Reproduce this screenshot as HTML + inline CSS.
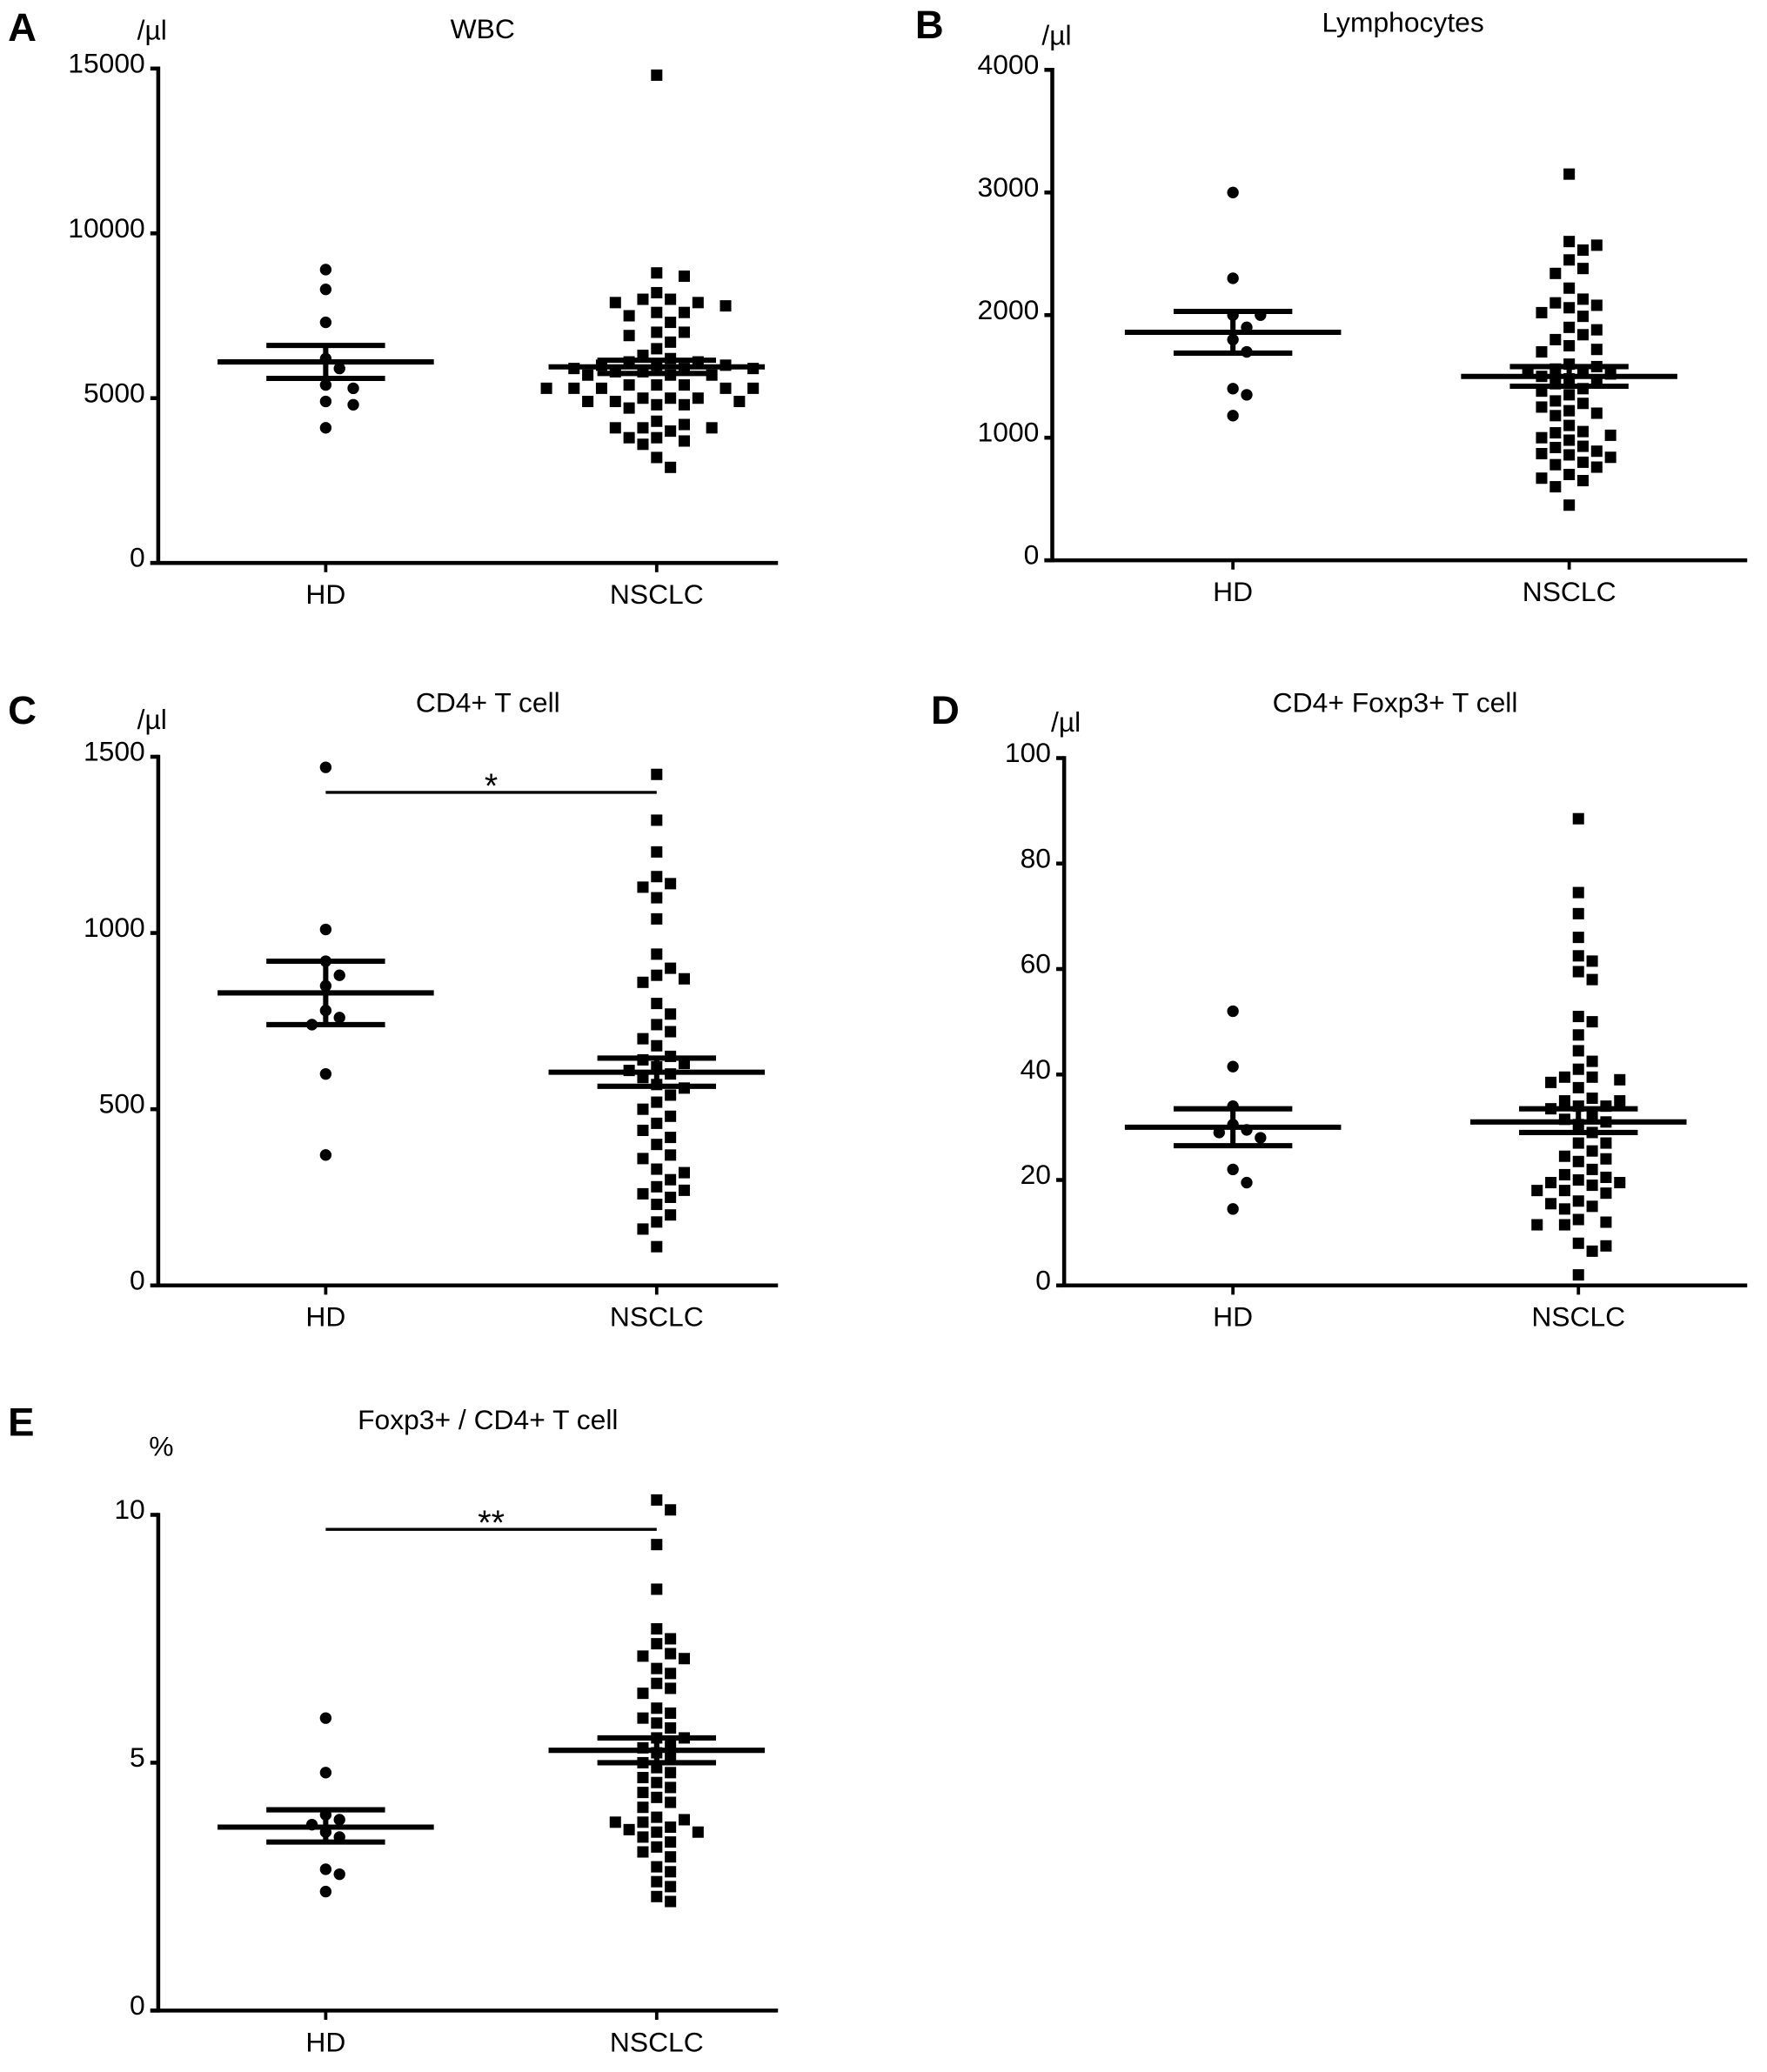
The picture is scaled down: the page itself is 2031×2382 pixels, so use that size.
<!DOCTYPE html>
<html><head><meta charset="utf-8"><style>
html,body{margin:0;padding:0;background:#fff;}
svg{display:block;font-family:"Liberation Sans",Arial,sans-serif;}
</style></head><body>
<svg id="fig" width="2031" height="2382" viewBox="0 0 1340 1571.6" xmlns="http://www.w3.org/2000/svg"></svg>
<script>
const groupLabels = ["HD","NSCLC"];
const aHD = [8900,8300,7300,6200,5900,5400,5300,4900,4800,4100];
const aNS = [14800,8800,8700,8200,8000,8000,7900,7900,7800,7600,7600,7500,7300,7000,7000,6900,6700,6500,6300,6200,6100,6100,6000,6000,6000,5900,5900,5900,5800,5800,5700,5700,5700,5400,5400,5400,5300,5300,5300,5300,5300,5000,5000,5000,4900,4900,4900,4800,4800,4700,4300,4200,4100,4100,4100,4000,3800,3800,3700,3600,3200,2900];
const aStats = [[6100,6600,5600],[5950,6150,5750]];
const aTicks = [0,5000,10000,15000];
const bHD = [3000,2300,2000,2000,1900,1800,1700,1400,1350,1180];
const bNS = [3150,2600,2570,2530,2450,2380,2340,2220,2130,2100,2080,2060,2020,1990,1900,1880,1840,1800,1750,1720,1700,1600,1580,1560,1550,1530,1520,1500,1480,1460,1440,1400,1380,1350,1300,1280,1250,1220,1200,1180,1100,1050,1040,1020,1000,980,930,920,890,870,860,840,800,780,760,700,670,650,600,450];
const bStats = [[1860,2030,1690],[1500,1580,1420]];
const bTicks = [0,1000,2000,3000,4000];
const cHD = [1470,1010,920,880,850,780,760,740,600,370];
const cNS = [1450,1320,1230,1160,1140,1130,1100,1040,940,900,880,870,860,800,770,740,720,700,680,650,640,630,620,610,600,590,570,560,540,520,500,480,460,440,420,400,370,360,330,320,300,280,270,260,250,230,200,180,160,110];
const cStats = [[830,920,740],[605,645,565]];
const cTicks = [0,500,1000,1500];
const dHD = [52,41.5,34,30.5,29.5,29,28,22,19.5,14.5];
const dNS = [88.5,74.5,70.5,66,62.5,61.5,59.5,58,51,50,47.5,44.5,42.5,41,39.5,39.5,39,38.5,37.5,35.5,35,35,34,34,33.5,32,31.5,31,30.5,29,27,27,25.5,24.5,24,23.5,22,21,20.5,20,19.5,19.5,19,18,18,17.5,16,15.5,15,14.5,12.5,12,11.5,11.5,8,7.5,6.5,2];
const dStats = [[30,33.5,26.5],[31,33.5,29]];
const dTicks = [0,20,40,60,80,100];
const eHD = [5.9,4.8,3.95,3.85,3.75,3.6,3.5,2.85,2.75,2.4];
const eNS = [10.3,10.1,9.4,8.5,7.7,7.5,7.4,7.2,7.15,7.1,6.9,6.8,6.6,6.5,6.4,6.1,6.0,5.9,5.8,5.7,5.5,5.5,5.4,5.3,5.2,5.1,5.0,4.9,4.8,4.7,4.6,4.5,4.4,4.3,4.2,4.1,3.9,3.85,3.8,3.8,3.7,3.65,3.6,3.6,3.5,3.4,3.3,3.2,3.1,2.9,2.8,2.6,2.5,2.3,2.2];
const eStats = [[3.7,4.05,3.4],[5.25,5.5,5.0]];
const eTicks = [0,5,10];

const NS = "http://www.w3.org/2000/svg";
const svg = document.getElementById('fig');
function mk(tag, attrs, parent, text){
  const e = document.createElementNS(NS, tag);
  for (const k in attrs) e.setAttribute(k, attrs[k]);
  if (text !== undefined) e.textContent = text;
  (parent || svg).appendChild(e);
  return e;
}
function swarm(vals, cx, y){
  const placed = []; const d = 11; const out = [];
  const sorted = vals.map((v,i)=>({v,i})).sort((a,b)=>b.v-a.v);
  for (const p of sorted){
    const py = y(p.v);
    let k = 0, px;
    while (true){
      const off = k===0?0:(k%2===1?1:-1)*Math.ceil(k/2)*d*0.95;
      px = cx + off;
      if (placed.every(q => Math.hypot(q[0]-px,q[1]-py) >= d)) break;
      k++;
    }
    placed.push([px,py]); out.push([px,py]);
  }
  return out;
}
function panel(o){
  const g = mk('g', {});
  
  
  const y = v => o.y0 + (v - o.tmin)/(o.tmax - o.tmin)*(o.y1 - o.y0);
  const lt = mk('text', {x:o.lx, y:o.ly, 'font-size':30, 'font-weight':'bold'}, g, o.letter);
   
  const tt = mk('text', {x:o.tx, y:o.ty, 'font-size':21, 'text-anchor':'middle'}, g, o.title);
   
  const ut = mk('text', {x:o.ux, y:o.uy, 'font-size':21}, g, o.unit);
   
  const ya = mk('line', {x1:o.ax, x2:o.ax, y1:y(o.tmax)-1.5, y2:o.y0+1.5, stroke:'#000','stroke-width':3}, g);
   
  const xa = mk('line', {x1:o.ax-6, x2:o.xend, y1:o.y0, y2:o.y0, stroke:'#000','stroke-width':3}, g);
   
  o.ticks.forEach(t => {
    mk('line', {x1:o.ax-6, x2:o.ax, y1:y(t), y2:y(t), stroke:'#000','stroke-width':3}, g);
    const tl = mk('text', {x:o.ax-10, y:y(t)+3, 'font-size':21, 'text-anchor':'end'}, g, String(t));
     
  });
  [o.hd, o.ns].forEach((vals, gi) => {
    const cx = o.cx[gi];
    mk('line', {x1:cx, x2:cx, y1:o.y0, y2:o.y0+7, stroke:'#000','stroke-width':2.5}, g);
    const xl = mk('text', {x:cx, y:o.y0+31, 'font-size':21, 'text-anchor':'middle'}, g, groupLabels[gi]);
     
    swarm(vals, cx, y).forEach(p => {
      let m;
      if (gi === 0) m = mk('circle', {cx:p[0], cy:p[1], r:4.4, fill:'#000'}, g);
      else m = mk('rect', {x:p[0]-4.3, y:p[1]-4.3, width:8.6, height:8.6, fill:'#000'}, g);
      
      
    });
    const st = o.stats[gi];
    mk('line', {x1:cx, x2:cx, y1:y(st[1]), y2:y(st[2]), stroke:'#000','stroke-width':4}, g);
    const ml = mk('line', {x1:cx-82, x2:cx+82, y1:y(st[0]), y2:y(st[0]), stroke:'#000','stroke-width':4}, g);
     
    [st[1], st[2]].forEach(v => {
      const s = mk('line', {x1:cx-45, x2:cx+45, y1:y(v), y2:y(v), stroke:'#000','stroke-width':4}, g);
       
    });
  });
  if (o.sig){
    const sl = mk('line', {x1:o.cx[0], x2:o.cx[1], y1:o.sig.y, y2:o.sig.y, stroke:'#000','stroke-width':2.2}, g);
     
    const st = mk('text', {x:(o.cx[0]+o.cx[1])/2, y:o.sig.y+4, 'font-size':26, 'text-anchor':'middle'}, g, o.sig.txt);
     
  }
}
panel({letter:'A', lx:6, ly:31, title:'WBC', tx:366, ty:29, unit:'/µl', ux:104, uy:30,
  ax:120, xend:590, y0:427, y1:52, tmin:0, tmax:15000, ticks:aTicks, cx:[247,498], hd:aHD, ns:aNS, stats:aStats});
panel({letter:'B', lx:694, ly:29, title:'Lymphocytes', tx:1064, ty:24, unit:'/µl', ux:790, uy:34,
  ax:798, xend:1325, y0:425, y1:53, tmin:0, tmax:4000, ticks:bTicks, cx:[935,1190], hd:bHD, ns:bNS, stats:bStats});
panel({letter:'C', lx:6, ly:549, title:'CD4+ T cell', tx:370, ty:540, unit:'/µl', ux:104, uy:553,
  ax:120, xend:590, y0:975, y1:574, tmin:0, tmax:1500, ticks:cTicks, cx:[247,498], hd:cHD, ns:cNS, stats:cStats, sig:{y:601, txt:'*'}});
panel({letter:'D', lx:706, ly:549, title:'CD4+ Foxp3+ T cell', tx:1058, ty:540, unit:'/µl', ux:797, uy:555,
  ax:807, xend:1325, y0:975, y1:575, tmin:0, tmax:100, ticks:dTicks, cx:[935,1197], hd:dHD, ns:dNS, stats:dStats});
panel({letter:'E', lx:6, ly:1089, title:'Foxp3+ / CD4+ T cell', tx:370, ty:1084, unit:'%', ux:113, uy:1104,
  ax:120, xend:590, y0:1525, y1:1149, tmin:0, tmax:10, ticks:eTicks, cx:[247,498], hd:eHD, ns:eNS, stats:eStats, sig:{y:1160, txt:'**'}});
</script>
</body></html>
